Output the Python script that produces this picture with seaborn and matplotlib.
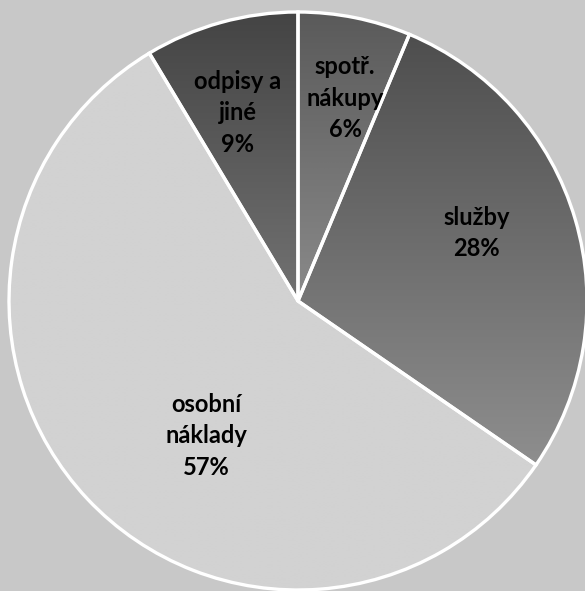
import numpy as np
import matplotlib
matplotlib.use("Agg")
import matplotlib.pyplot as plt
import seaborn as sns
from matplotlib.colors import LinearSegmentedColormap

# --- DATA ---
categories = ["spotř.\nnákupy", "služby", "osobní\nnáklady", "odpisy a\njiné"]
shares = [6.3, 28.3, 56.8, 8.6]

# label anchor points (in pie-radius units) and per-slice gradient colours
label_pos = [(0.163, 0.702), (0.619, 0.235), (-0.318, -0.467), (-0.208, 0.651)]
grad_top = ["#5a5a5a", "#4e4e4e", "#d2d2d2", "#444444"]
grad_bottom = ["#8a8a8a", "#8e8e8e", "#d2d2d2", "#727272"]

sns.set_theme(style="white")
plt.rcParams["font.family"] = ["Lato", "DejaVu Sans"]

BG = "#c8c8c8"
fig = plt.figure(figsize=(5.85, 5.91), dpi=100, facecolor=BG)
ax = fig.add_axes([0, 0, 1, 1])
ax.set_facecolor(BG)

wedges, _ = ax.pie(
    shares,
    startangle=90,
    counterclock=False,
    colors=grad_bottom,
    wedgeprops=dict(edgecolor="white", linewidth=2.4),
)

# vertical gradient fill clipped to each wedge
for w, c_top, c_bot in zip(wedges, grad_top, grad_bottom):
    path = w.get_path()
    verts = w.get_transform().transform(path.vertices)
    verts = ax.transData.inverted().transform(verts)
    x0, x1 = verts[:, 0].min(), verts[:, 0].max()
    y0, y1 = verts[:, 1].min(), verts[:, 1].max()
    cmap = LinearSegmentedColormap.from_list("g", [c_bot, c_top])
    grad = np.linspace(0, 1, 256).reshape(-1, 1)
    im = ax.imshow(grad, cmap=cmap, extent=[x0, x1, y0, y1], origin="lower",
                   aspect="auto", zorder=w.get_zorder() + 0.1,
                   interpolation="bilinear")
    im.set_clip_path(w)
    w.set_facecolor("none")
    w.set_zorder(w.get_zorder() + 0.2)

for (lx, ly), name, val in zip(label_pos, categories, shares):
    ax.text(lx, ly, f"{name}\n{val:.0f}%", ha="center", va="center",
            fontsize=17, fontweight="bold", color="black",
            linespacing=1.45, zorder=5)

# place the pie like the reference (centre at 298,301 px, radius 289 px)
R = 289.0
ax.set_xlim(-298 / R, (585 - 298) / R)
ax.set_ylim(-(591 - 301) / R, 301 / R)
ax.set_aspect("auto")
ax.axis("off")

fig.savefig("out.png", dpi=100, facecolor=BG)
